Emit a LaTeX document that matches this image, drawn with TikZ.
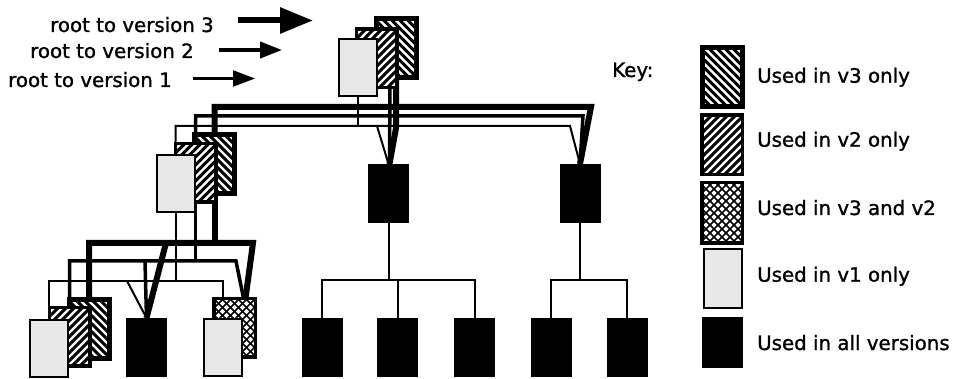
\documentclass[tikz,border=0pt]{standalone}
\usepackage{fontspec}
\setmainfont{DejaVu Sans}
\newfontfamily\lblfont{DejaVu Sans}[FakeBold=1.2]
\usetikzlibrary{arrows.meta,calc}
\pgfdeclarelayer{bg}
\pgfsetlayers{bg,main}
\begin{document}
\begin{tikzpicture}[x=1pt,y=-1pt,
  box/.style={rectangle, inner sep=0pt, outer sep=0pt},
  hatchback/.style={path picture={
    \foreach \i in {-72,-64,...,72}
      \draw[line width=#1] ($(path picture bounding box.center)+(\i-45,-45)$) -- ++(90,90);}},
  hatchfwd/.style={path picture={
    \foreach \i in {-72,-64,...,72}
      \draw[line width=#1] ($(path picture bounding box.center)+(\i-45,45)$) -- ++(90,-90);}},
  hatchcross/.style={path picture={
    \foreach \i in {-72,-64,...,72}{
      \draw[line width=1.7pt] ($(path picture bounding box.center)+(\i-45,-45)$) -- ++(90,90);
      \draw[line width=1.7pt] ($(path picture bounding box.center)+(\i-45,45)$) -- ++(90,-90);}}},
  vthree/.style={box, draw=black, line width=5pt, minimum width=40pt, minimum height=59pt,
    fill=white, hatchback=2.9pt},
  vtwo/.style={box, draw=black, line width=3.5pt, minimum width=40.5pt, minimum height=58.5pt,
    fill=white, hatchfwd=2.9pt},
  vboth/.style={box, draw=black, line width=3.5pt, minimum width=41.5pt, minimum height=58.5pt,
    fill=white, hatchcross},
  vone/.style={box, draw=black, line width=2pt, minimum width=38pt, minimum height=57pt, fill=black!9},
  vall/.style={box, fill=black, minimum width=41pt, minimum height=59pt},
  lthree/.style={line width=6pt, line join=miter},
  ltwo/.style={line width=3.5pt, line join=miter},
  lone/.style={line width=2pt, line join=miter},
  ltree/.style={line width=2pt},
  lbl/.style={inner sep=0pt, anchor=base west, font=\lblfont\fontsize{19.8}{24}\selectfont}
]
\useasboundingbox (0,0) rectangle (955,379);

% ---- root cluster
\node[vthree] (r3) at (396,48.5) {};
\node[vtwo]   (r2) at (376.5,58.5) {};
\node[vone]   (r1) at (358,67.5) {};
% ---- middle-left cluster
\node[vthree] (m3) at (214.5,164.5) {};
\node[vtwo]   (m2) at (195.5,173) {};
\node[vone]   (m1) at (175.5,183.5) {};
% ---- bottom-left cluster
\node[vthree] (b3) at (89,329) {};
\node[vtwo]   (b2) at (69.5,336.5) {};
\node[vone]   (b1) at (48.5,348.5) {};
% ---- bottom shared cluster
\node[vboth]  (bx) at (234.5,327.5) {};
\node[vone]   (bv1) at (223,347.5) {};
% ---- black nodes
\node[vall] (k1) at (146.5,347.5) {};
\node[vall] (ka) at (388.5,193.5) {};
\node[vall] (kb) at (580,193.5) {};
\node[vall] (k2) at (322,347.5) {};
\node[vall] (k3) at (397.5,347.5) {};
\node[vall] (k4) at (474.5,347.5) {};
\node[vall] (k5) at (551,347.5) {};
\node[vall] (k6) at (627,347.5) {};

% ---- helper coordinates
\coordinate (y243) at (0,243);
\coordinate (y261) at (0,261);
\coordinate (y281) at (0,281);
\coordinate (y280) at (0,280);

\begin{pgfonlayer}{bg}
\fill[white] (0,0) rectangle (955,379);
% root level
\draw[lthree] (m3.north) |- (591,107) -- (kb.north);
\draw[lthree] (r3.south) -- (396,128) -- ([xshift=1pt]ka.north);
\draw[ltwo] (m2.north) |- (583,116) -- (kb.north);
\draw[ltwo] ([xshift=13.5pt]r2.south) -- ([xshift=1pt]ka.north);
\draw[lone] (m1.north) |- (570,126) -- (kb.north);
\draw[lone] (r1.south) -- (358,126);
\draw[lone] (377,126) -- (ka.north);
% middle level
\draw[lthree] (b3.north) |- (253,243) -- ([xshift=11pt]bx.north);
\draw[lthree] (m3.south) -- (m3.south |- y243);
\draw[lthree] (166,243) -- (k1.north);
\draw[ltwo] (b2.north) |- (236,261) -- ([xshift=9pt]bx.north);
\draw[ltwo] (m2.south) -- (m2.south |- y261);
\draw[ltwo] (145,261) -- (k1.north);
\draw[lone] (b1.north) |- (223,281) -- (bv1.north);
\draw[lone] (m1.south) -- (m1.south |- y281);
\draw[lone] (127,281) -- (k1.north);
% shared black subtrees
\draw[ltree] (ka.south) -- (ka.south |- y280);
\draw[ltree] (k2.north) |- (k4.north |- y280) -- (k4.north);
\draw[ltree] (k3.north) -- (k3.north |- y280);
\draw[ltree] (kb.south) -- (kb.south |- y280);
\draw[ltree] (k5.north) |- (k6.north |- y280) -- (k6.north);
\end{pgfonlayer}

% ---- left labels and arrows
\node[lbl] (t3) at (50,32) {root to version 3};
\node[lbl] (t2) at (30,58) {root to version 2};
\node[lbl] (t1) at (8,87) {root to version 1};
\coordinate (a3s) at (238,20.5);
\coordinate (a3e) at (313,20.5);
\coordinate (a2s) at (219,50);
\coordinate (a2e) at (282,50);
\coordinate (a1s) at (193,78.5);
\coordinate (a1e) at (255,78.5);
\draw[line width=6pt, -{Triangle[length=33pt,width=25pt]}] (a3s) -- (a3e);
\draw[line width=4pt, -{Triangle[length=22pt,width=16pt]}] (a2s) -- (a2e);
\draw[line width=2.2pt, -{Triangle[length=22pt,width=16pt]}] (a1s) -- (a1e);

% ---- key
\node[lbl] (key) at (612,77) {Key:};
\node[vthree] (L3) at (722,77.5) {};
\node[vtwo, minimum height=59.5pt] (L2) at (722,145) {};
\node[vboth, minimum width=40.5pt, minimum height=60.5pt] (Lx) at (722,213) {};
\node[vone, minimum height=59pt] (L1) at (722.5,278.5) {};
\node[vall, minimum height=51pt] (L0) at (722.5,342.5) {};
\node[lbl] (u3) at (757,82.7) {Used in v3 only};
\node[lbl] (u2) at (757,146.7) {Used in v2 only};
\node[lbl] (ux) at (757,215) {Used in v3 and v2};
\node[lbl] (u1) at (757,281.7) {Used in v1 only};
\node[lbl] (u0) at (757,350) {Used in all versions};
\end{tikzpicture}
\end{document}
